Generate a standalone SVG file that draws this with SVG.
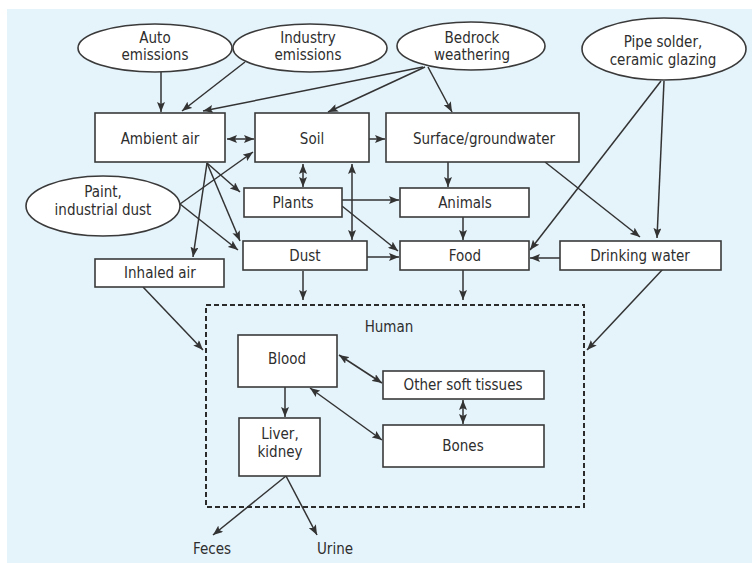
<svg xmlns="http://www.w3.org/2000/svg" width="752" height="563" viewBox="0 0 752 563">
  <style>
    .bg { fill: #e5f3fb; }
    .node { fill: #ffffff; stroke: #3a3a3a; stroke-width: 1.6; }
    .src { fill: #ffffff; stroke: #3a3a3a; stroke-width: 1.6; }
    .lbl { font-family: "Liberation Sans Narrow", "DejaVu Sans Condensed", "Liberation Sans", sans-serif; font-size: 15px; fill: #2e2e2e; text-anchor: middle; }
    .edge { fill: none; stroke: #333333; stroke-width: 1.5; marker-end: url(#ah); }
    .both { marker-start: url(#ah); }
    .frame { fill: none; stroke: #2b2b2b; stroke-width: 2; stroke-dasharray: 5 3; }
  </style>
  <defs>
    <marker id="ah" viewBox="0 0 10 8" refX="10" refY="4" markerWidth="10" markerHeight="8" markerUnits="userSpaceOnUse" orient="auto-start-reverse">
      <path d="M0,0 L10,4 L0,8 L2,4 Z" fill="#333333"/>
    </marker>
  </defs>

  <rect class="bg" x="7" y="9" width="745" height="554"/>

  <!-- connectors -->
  <g id="connectors">
    <line class="edge" x1="161" y1="72" x2="161" y2="112"/>
    <line class="edge" x1="245" y1="62" x2="182" y2="111"/>
    <line class="edge" x1="423" y1="67" x2="203" y2="111"/>
    <line class="edge" x1="425" y1="67" x2="328" y2="112"/>
    <line class="edge" x1="428" y1="67" x2="452" y2="112"/>
    <line class="edge both" x1="227" y1="139" x2="254" y2="139"/>
    <line class="edge" x1="369" y1="139" x2="385" y2="139"/>
    <line class="edge" x1="661" y1="81" x2="530" y2="250"/>
    <line class="edge" x1="664" y1="81" x2="657" y2="238"/>
    <line class="edge" x1="545" y1="162" x2="640" y2="237"/>
    <line class="edge" x1="448" y1="162" x2="448" y2="187"/>
    <line class="edge" x1="463" y1="217" x2="463" y2="240"/>
    <line class="edge" x1="560" y1="258" x2="530" y2="258"/>
    <line class="edge" x1="342" y1="200" x2="399" y2="200"/>
    <line class="edge" x1="342" y1="206" x2="398" y2="251"/>
    <line class="edge" x1="367" y1="257" x2="399" y2="257"/>
    <line class="edge both" x1="303" y1="164" x2="303" y2="187"/>
    <line class="edge both" x1="352" y1="164" x2="352" y2="240"/>
    <line class="edge" x1="207" y1="163" x2="240" y2="192"/>
    <line class="edge" x1="207" y1="163" x2="240" y2="241"/>
    <line class="edge" x1="207" y1="163" x2="193" y2="257"/>
    <line class="edge" x1="180" y1="204" x2="253" y2="152"/>
    <line class="edge" x1="180" y1="204" x2="238" y2="250"/>
    <line class="edge" x1="143" y1="287" x2="203" y2="350"/>
    <line class="edge" x1="663" y1="269" x2="587" y2="350"/>
    <line class="edge" x1="303" y1="271" x2="303" y2="300"/>
    <line class="edge" x1="463" y1="269" x2="463" y2="300"/>
    <line class="edge both" x1="339" y1="355" x2="382" y2="383"/>
    <line class="edge both" x1="310" y1="388" x2="382" y2="440"/>
    <line class="edge" x1="285" y1="387" x2="285" y2="417"/>
    <line class="edge both" x1="463" y1="400" x2="463" y2="424"/>
    <line class="edge" x1="286" y1="476" x2="213" y2="535"/>
    <line class="edge" x1="286" y1="476" x2="317" y2="535"/>
  </g>

  <!-- sources -->
  <g id="auto-emissions">
    <ellipse class="src" cx="155" cy="48" rx="77" ry="24"/>
    <text class="lbl" x="155" y="43">Auto</text>
    <text class="lbl" x="155" y="60">emissions</text>
  </g>
  <g id="industry-emissions">
    <ellipse class="src" cx="310" cy="48" rx="77" ry="24"/>
    <text class="lbl" x="308" y="43">Industry</text>
    <text class="lbl" x="308" y="60">emissions</text>
  </g>
  <g id="bedrock-weathering">
    <ellipse class="src" cx="471" cy="46" rx="74" ry="24"/>
    <text class="lbl" x="472" y="43">Bedrock</text>
    <text class="lbl" x="472" y="60">weathering</text>
  </g>
  <g id="pipe-solder">
    <ellipse class="src" cx="664" cy="49" rx="82" ry="31"/>
    <text class="lbl" x="663" y="47">Pipe solder,</text>
    <text class="lbl" x="663" y="65">ceramic glazing</text>
  </g>
  <g id="paint-dust">
    <ellipse class="src" cx="103" cy="206" rx="77" ry="30"/>
    <text class="lbl" x="103" y="197">Paint,</text>
    <text class="lbl" x="103" y="215">industrial dust</text>
  </g>

  <!-- media -->
  <g id="ambient-air">
    <rect class="node" x="95" y="113" width="130" height="49"/>
    <text class="lbl" x="160" y="144">Ambient air</text>
  </g>
  <g id="soil">
    <rect class="node" x="255" y="113" width="114" height="49"/>
    <text class="lbl" x="312" y="144">Soil</text>
  </g>
  <g id="surface-groundwater">
    <rect class="node" x="386" y="113" width="193" height="49"/>
    <text class="lbl" x="484" y="144">Surface/groundwater</text>
  </g>
  <g id="plants">
    <rect class="node" x="244" y="188" width="98" height="29"/>
    <text class="lbl" x="293" y="208">Plants</text>
  </g>
  <g id="animals">
    <rect class="node" x="400" y="188" width="129" height="29"/>
    <text class="lbl" x="465" y="208">Animals</text>
  </g>
  <g id="dust">
    <rect class="node" x="243" y="241" width="124" height="29"/>
    <text class="lbl" x="305" y="261">Dust</text>
  </g>
  <g id="food">
    <rect class="node" x="400" y="241" width="129" height="29"/>
    <text class="lbl" x="465" y="261">Food</text>
  </g>
  <g id="drinking-water">
    <rect class="node" x="560" y="241" width="161" height="29"/>
    <text class="lbl" x="640" y="261">Drinking water</text>
  </g>
  <g id="inhaled-air">
    <rect class="node" x="95" y="259" width="129" height="28"/>
    <text class="lbl" x="160" y="278">Inhaled air</text>
  </g>

  <!-- human compartment -->
  <g id="human">
    <rect class="frame" x="206" y="305" width="378" height="202"/>
    <text class="lbl" x="389" y="332">Human</text>
  </g>
  <g id="blood">
    <rect class="node" x="238" y="335" width="99" height="52"/>
    <text class="lbl" x="287" y="364">Blood</text>
  </g>
  <g id="soft-tissues">
    <rect class="node" x="383" y="371" width="161" height="28"/>
    <text class="lbl" x="463" y="390">Other soft tissues</text>
  </g>
  <g id="bones">
    <rect class="node" x="383" y="425" width="161" height="42"/>
    <text class="lbl" x="463" y="451">Bones</text>
  </g>
  <g id="liver-kidney">
    <rect class="node" x="239" y="418" width="81" height="58"/>
    <text class="lbl" x="280" y="439">Liver,</text>
    <text class="lbl" x="280" y="457">kidney</text>
  </g>
  <g id="feces">
    <text class="lbl" x="212" y="554">Feces</text>
  </g>
  <g id="urine">
    <text class="lbl" x="335" y="554">Urine</text>
  </g>
</svg>
